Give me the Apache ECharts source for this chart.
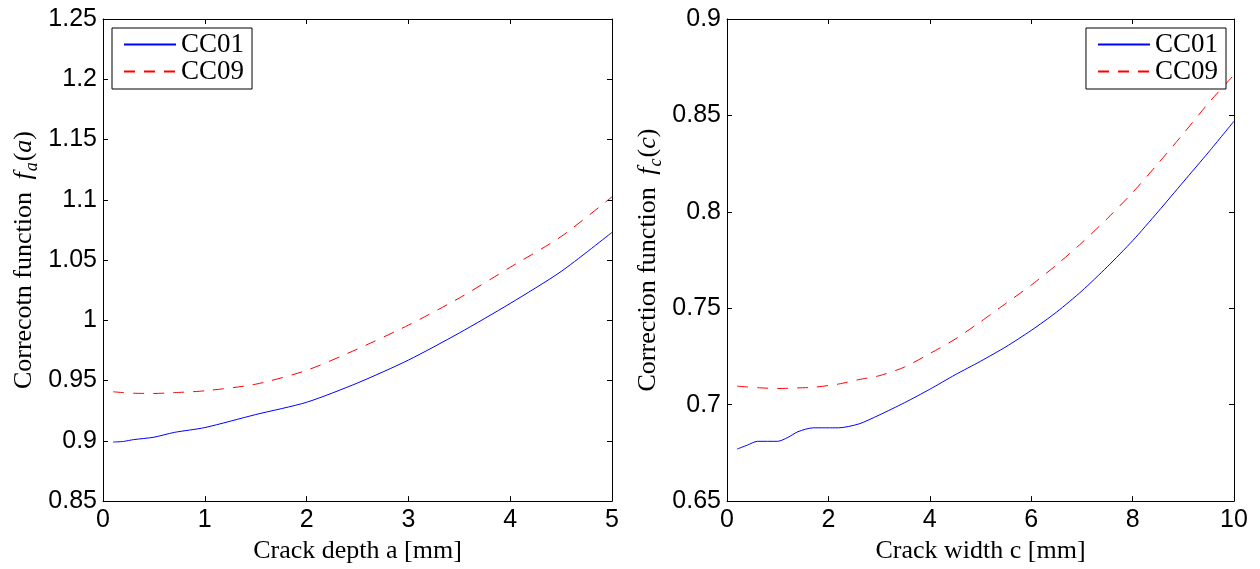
<!DOCTYPE html>
<html lang="en">
<head>
    <meta charset="UTF-8">
    <title>Correction functions</title>
    <script src="https://cdn.jsdelivr.net/npm/echarts@6/dist/echarts.min.js"></script>
    <style>
        html, body { margin: 0; padding: 0; background: #fff; }
        #main { width: 1260px; height: 569px; }
    </style>
</head>
<body>
    <div id="main"></div>
    <script>
        // 左图：裂纹深度 a
        var depthA = [0.1, 0.2, 0.3, 0.5, 0.7, 1.0, 1.5, 2.0, 2.5, 3.0, 3.5, 4.0, 4.5, 5.0];
        var cc01A = [0.899, 0.8995, 0.901, 0.903, 0.907, 0.911, 0.9218, 0.932, 0.948, 0.967, 0.9895, 1.014, 1.0405, 1.073];
        var cc09A = [0.9407, 0.940, 0.9395, 0.9393, 0.940, 0.9415, 0.947, 0.9585, 0.9762, 0.996, 1.0185, 1.044, 1.0695, 1.1025];

        // 右图：裂纹宽度 c
        var widthC = [0.2, 0.4, 0.6, 1.0, 1.2, 1.4, 1.7, 2.2, 2.6, 3.0, 3.5, 4.0, 4.5, 5.0, 5.5, 6.0, 6.5, 7.0, 7.5, 8.0, 8.5, 9.0, 9.5, 10.0];
        var cc01C = [0.677, 0.679, 0.681, 0.681, 0.683, 0.686, 0.688, 0.688, 0.690, 0.6946, 0.701, 0.708, 0.7155, 0.7225, 0.730, 0.7385, 0.748, 0.759, 0.7715, 0.785, 0.800, 0.8155, 0.831, 0.847];
        var cc09C = [0.7096, 0.7092, 0.7088, 0.7084, 0.7085, 0.7087, 0.709, 0.7107, 0.713, 0.715, 0.7195, 0.7265, 0.734, 0.743, 0.7525, 0.762, 0.7725, 0.784, 0.7965, 0.810, 0.825, 0.8405, 0.8565, 0.871];

        var tickA = [0, 5, 1];        // min, max, interval
        var tickC = [0, 10, 2];
        var tickFA = [0.85, 1.25, 0.05];
        var tickFC = [0.65, 0.9, 0.05];

        function pairs(xs, ys) {
            var out = [];
            for (var i = 0; i < xs.length; i++) {
                out.push([xs[i], ys[i]]);
            }
            return out;
        }

        var sans = 'Liberation Sans';
        var serif = 'Liberation Serif';

        var labelStyle = { color: '#000', fontFamily: sans, fontSize: 25 };
        var lineStyle = { color: '#000', width: 1 };

        function mainX(grid, t, name) {
            return {
                type: 'value', gridIndex: grid, position: 'bottom',
                min: t[0], max: t[1], interval: t[2],
                axisLine: { show: true, onZero: false, lineStyle: lineStyle },
                axisTick: { show: true, inside: true, length: 5, lineStyle: lineStyle },
                axisLabel: Object.assign({ margin: 7 }, labelStyle),
                splitLine: { show: false },
                name: name, nameLocation: 'middle', nameGap: 36,
                nameTextStyle: { color: '#000', fontFamily: serif, fontSize: 26 }
            };
        }
        function sideX(grid, t) {
            return {
                type: 'value', gridIndex: grid, position: 'top',
                min: t[0], max: t[1], interval: t[2],
                axisLine: { show: true, onZero: false, lineStyle: lineStyle },
                axisTick: { show: true, inside: true, length: 5, lineStyle: lineStyle },
                axisLabel: { show: false },
                splitLine: { show: false }
            };
        }
        function mainY(grid, t, name) {
            return {
                type: 'value', gridIndex: grid, position: 'left',
                min: t[0], max: t[1], interval: t[2],
                axisLine: { show: true, onZero: false, lineStyle: lineStyle },
                axisTick: { show: true, inside: true, length: 5, lineStyle: lineStyle },
                axisLabel: Object.assign({ margin: 6 }, labelStyle),
                splitLine: { show: false },
                name: name, nameLocation: 'middle', nameRotate: 90, nameGap: 62,
                nameTextStyle: {
                    color: '#000', fontFamily: serif, fontSize: 26,
                    rich: {
                        i: { fontFamily: serif, fontStyle: 'italic', fontSize: 26, color: '#000', padding: [0, 1, 0, 6] },
                        s: { fontFamily: serif, fontStyle: 'italic', fontSize: 18, color: '#000', padding: [16, 1, 0, 0] },
                        p: { fontFamily: serif, fontSize: 26, color: '#000' },
                        v: { fontFamily: serif, fontStyle: 'italic', fontSize: 26, color: '#000' }
                    }
                }
            };
        }
        function sideY(grid, t) {
            return {
                type: 'value', gridIndex: grid, position: 'right',
                min: t[0], max: t[1], interval: t[2],
                axisLine: { show: true, onZero: false, lineStyle: lineStyle },
                axisTick: { show: true, inside: true, length: 5, lineStyle: lineStyle },
                axisLabel: { show: false },
                splitLine: { show: false }
            };
        }

        function legendAt(pos) {
            return Object.assign({
                orient: 'vertical',
                data: ['CC01', 'CC09'],
                selectedMode: false,
                backgroundColor: '#fff',
                borderColor: '#000', borderWidth: 1, borderRadius: 0,
                padding: [3, 8, 4, 11],
                itemWidth: 52, itemHeight: 10, itemGap: 0,
                itemStyle: { opacity: 0 },
                textStyle: { color: '#000', fontFamily: serif, fontSize: 27, lineHeight: 20 }
            }, pos);
        }

        var myChart = echarts.init(document.getElementById('main'), null, { renderer: 'canvas' });

        var blue = { color: '#0000ff', width: 1 };
        var red = { color: '#ff0000', width: 1, type: [11, 9] };

        function curve(name, xi, style, data) {
            return {
                name: name, type: 'line', xAxisIndex: xi, yAxisIndex: xi,
                showSymbol: false, symbol: 'none',
                smooth: 0.25,
                lineStyle: style, itemStyle: { color: style.color },
                data: data
            };
        }

        var option = {
            backgroundColor: '#fff',
            animation: false,
            grid: [
                { left: 103, top: 19, width: 509, height: 484 },
                { left: 727, top: 19, width: 507, height: 484 }
            ],
            legend: [
                legendAt({ left: 112, top: 28 }),
                legendAt({ right: 34, top: 28 })
            ],
            xAxis: [
                mainX(0, tickA, 'Crack depth a [mm]'),
                sideX(0, tickA),
                mainX(1, tickC, 'Crack width c [mm]'),
                sideX(1, tickC)
            ],
            yAxis: [
                mainY(0, tickFA, 'Correcotn function {i|f}{s|a}{p|(}{v|a}{p|)}'),
                sideY(0, tickFA),
                mainY(1, tickFC, 'Correction function {i|f}{s|c}{p|(}{v|c}{p|)}'),
                sideY(1, tickFC)
            ],
            series: [
                curve('CC01', 0, blue, pairs(depthA, cc01A)),
                curve('CC09', 0, red, pairs(depthA, cc09A)),
                curve('CC01', 2, blue, pairs(widthC, cc01C)),
                curve('CC09', 2, red, pairs(widthC, cc09C))
            ]
        };

        myChart.setOption(option);
    </script>
</body>
</html>
